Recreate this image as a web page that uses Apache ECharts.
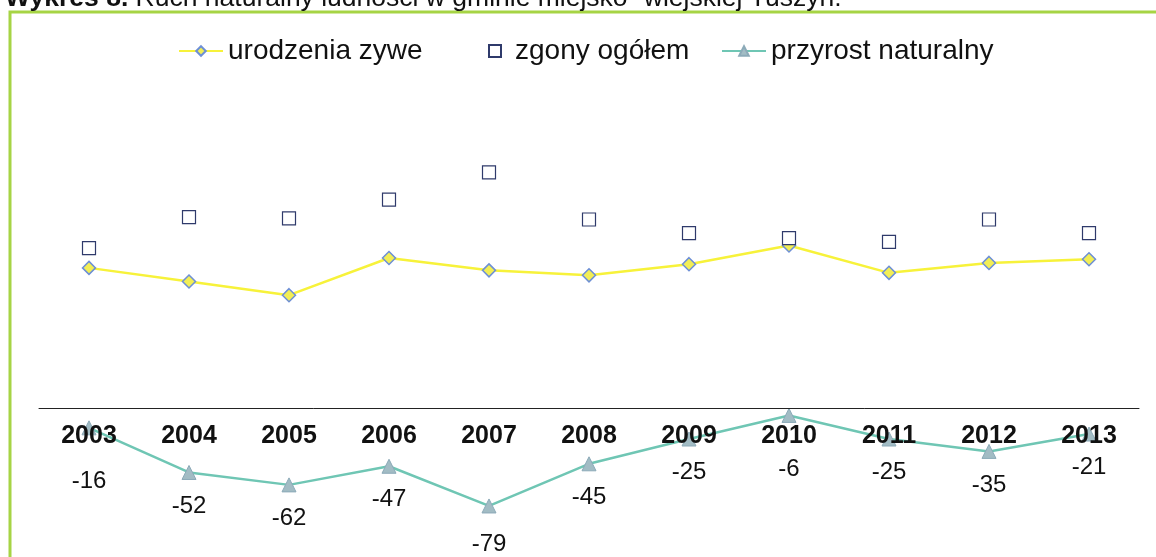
<!DOCTYPE html>
<html>
<head>
<meta charset="utf-8">
<script src="https://cdn.jsdelivr.net/npm/echarts@6/dist/echarts.min.js"></script>
<style>
    html, body { margin: 0; padding: 0; background: #fff; }
    #chart { width: 1156px; height: 557px; }
</style>
</head>
<body>
<div id="chart"></div>
<script>
    // dane z wykresu
    const lata = ['2003', '2004', '2005', '2006', '2007', '2008', '2009', '2010', '2011', '2012', '2013'];
    const urodzenia = [113, 102, 91, 121, 111, 107, 116, 131, 109, 117, 120];
    const zgony = [129, 154, 153, 168, 190, 152, 141, 137, 134, 152, 141];
    const przyrost = [-16, -52, -62, -47, -79, -45, -25, -6, -25, -35, -21];

    const font = 'Arial, "Liberation Sans", sans-serif';

    // zakres osi Y i siatka - os X ma lezec na zerze
    const yMin = -100, yMax = 200;
    const gridTop = 160, gridBottom = 25;
    const plotH = 557 - gridTop - gridBottom;
    const zeroOffset = -plotH * (0 - yMin) / (yMax - yMin);

    // etykiety blisko osi odsuwamy nizej, zeby nie wchodzily na lata
    const przyrostData = przyrost.map(v => ({
        value: v,
        label: { distance: v > -20 ? 34 : (v < -70 ? 19 : 14) }
    }));

    // kazda pozycja legendy osobno, jak w Excelu
    const legendaBase = {
        top: 32,
        itemHeight: 12,
        textStyle: { fontFamily: font, fontSize: 28, color: '#111' }
    };

    const chart = echarts.init(document.getElementById('chart'));
    const option = {
        animation: false,
        backgroundColor: '#fff',
        title: {
            left: 0,
            top: -20,
            text: '{b|Wykres 8.} Ruch naturalny ludności w gminie miejsko- wiejskiej Tuszyn.',
            textStyle: {
                fontFamily: font,
                fontSize: 26.5,
                fontWeight: 'normal',
                color: '#111',
                rich: {
                    b: { fontFamily: font, fontSize: 26.5, fontWeight: 'bold', color: '#111' }
                }
            }
        },
        graphic: [{
            type: 'rect',
            shape: { x: 10, y: 12, width: 1170, height: 570 },
            style: { fill: 'none', stroke: '#a6d444', lineWidth: 3 },
            silent: true
        }],
        legend: [
            Object.assign({ left: 173, itemWidth: 44, data: ['urodzenia zywe'] }, legendaBase),
            Object.assign({ left: 483, itemWidth: 30, data: [{ name: 'zgony ogółem', icon: 'path://M0,0L10,0L10,10L0,10Z' }] }, legendaBase),
            Object.assign({ left: 716, itemWidth: 44, data: ['przyrost naturalny'] }, legendaBase)
        ],
        grid: {
            left: 39,
            right: 17,
            top: gridTop,
            bottom: gridBottom,
            outerBoundsMode: 'none'
        },
        xAxis: {
            type: 'category',
            data: lata,
            offset: zeroOffset,
            axisLine: { onZero: false, lineStyle: { color: '#222', width: 1 } },
            axisTick: { show: false },
            axisLabel: {
                margin: 16,
                fontFamily: font,
                fontSize: 25,
                fontWeight: 'bold',
                color: '#111'
            },
            z: 5
        },
        yAxis: {
            type: 'value',
            min: yMin,
            max: yMax,
            show: false,
            splitLine: { show: false }
        },
        series: [{
            name: 'urodzenia zywe',
            type: 'line',
            data: urodzenia,
            symbol: 'diamond',
            symbolSize: 13,
            lineStyle: { color: '#f7f23a', width: 2.5 },
            itemStyle: { color: '#f2ee55', borderColor: '#6d8fd6', borderWidth: 1.5 },
            z: 3
        }, {
            name: 'zgony ogółem',
            type: 'scatter',
            data: zgony,
            symbol: 'rect',
            symbolSize: 13,
            itemStyle: { color: '#fff', borderColor: '#2f3a6b', borderWidth: 1.2, opacity: 1 },
            z: 3
        }, {
            name: 'przyrost naturalny',
            type: 'line',
            data: przyrostData,
            symbol: 'triangle',
            symbolSize: 14,
            lineStyle: { color: '#6fc6b4', width: 2.5 },
            itemStyle: { color: '#a2bcc4', borderColor: '#8caab8', borderWidth: 1 },
            label: {
                show: true,
                position: 'bottom',
                fontFamily: font,
                fontSize: 24,
                color: '#111'
            },
            z: 2
        }]
    };
    chart.setOption(option);
    window.addEventListener('resize', chart.resize);
</script>
</body>
</html>
